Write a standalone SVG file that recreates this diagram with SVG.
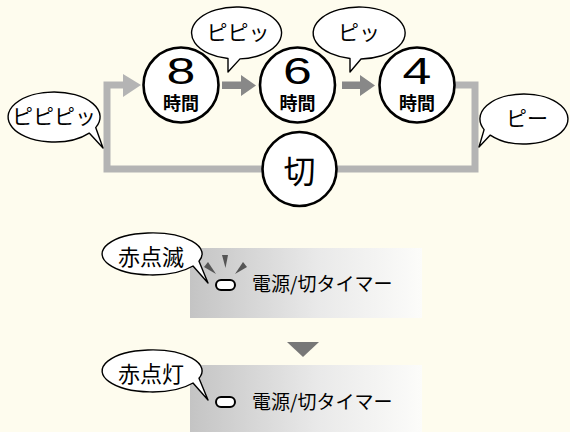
<svg xmlns="http://www.w3.org/2000/svg" width="570" height="432" viewBox="0 0 570 432">
<defs>
<linearGradient id="panel" x1="0" y1="0" x2="1" y2="0">
<stop offset="0" stop-color="#c4c4c4"/>
<stop offset="0.55" stop-color="#e9e9e9"/>
<stop offset="1" stop-color="#fcfcfa"/>
</linearGradient>
<style>
.node{fill:#fff;stroke:#000;stroke-width:2.6}
.bub{fill:#fff;stroke:#000;stroke-width:1.4;stroke-linejoin:round}
.loop{fill:none;stroke:#b4b4b4;stroke-width:7}
.jp{font-family:"Noto Sans CJK JP","Noto Sans",sans-serif;fill:#000}
.dig{font-family:"Liberation Sans","DejaVu Sans",sans-serif;font-size:37px;fill:#000;text-anchor:middle}
.hr{font-size:18px;font-weight:bold;text-anchor:middle}
.bt{font-size:21px;text-anchor:middle}
.lbl{font-size:19px}
.led{fill:#fff;stroke:#000;stroke-width:2}
</style>
</defs>
<rect width="570" height="432" fill="#fefcee"/>
<g id="connectors">
<path class="loop" d="M270,169 H107 V85 H125"/>
<polygon points="123,74 141,85 123,97" fill="#b4b4b4"/>
<path class="loop" d="M445,85 H475 V169 H330"/>
<polygon points="222,81.5 241,81.5 241,75 256,85.5 241,96 241,89 222,89" fill="#888"/>
<polygon points="342,81.5 360,81.5 360,75 375,85.5 360,96 360,89 342,89" fill="#888"/>
</g>
<g id="node-8">
<circle class="node" cx="181" cy="85" r="37.5"/>
<text class="dig" transform="translate(181,84) scale(1.4,1)">8</text>
<text class="jp hr" x="181" y="110">時間</text>
</g>
<g id="node-6">
<circle class="node" cx="297.5" cy="85" r="37.5"/>
<text class="dig" transform="translate(297.5,84) scale(1.4,1)">6</text>
<text class="jp hr" x="297.5" y="110">時間</text>
</g>
<g id="node-4">
<circle class="node" cx="417" cy="85" r="37.5"/>
<text class="dig" transform="translate(417,84) scale(1.4,1)">4</text>
<text class="jp hr" x="417" y="110">時間</text>
</g>
<g id="node-off">
<circle class="node" cx="299.5" cy="169" r="37"/>
<text class="jp" x="299.5" y="183" font-size="32" text-anchor="middle">切</text>
</g>
<g id="bubble-pipipi">
<path class="bub" d="M89.2,133.1 A46,25 0 1 1 95.7,127.6 L103,148 Z"/>
<text class="jp bt" x="54" y="124">ピピピッ</text>
</g>
<g id="bubble-pipi">
<path class="bub" d="M228,58.5 A45,26 0 1 1 240,58.9 L228,72 Z"/>
<text class="jp bt" x="238" y="40">ピピッ</text>
</g>
<g id="bubble-pi">
<path class="bub" d="M350,58.5 A46,26 0 1 1 361,59 L350,72 Z"/>
<text class="jp bt" x="359" y="40">ピッ</text>
</g>
<g id="bubble-pii">
<path class="bub" d="M484.1,129.6 A44,25 0 1 1 490.3,135.1 L479,147 Z"/>
<text class="jp bt" x="527" y="126">ピー</text>
</g>
<g id="panel-blink">
<rect x="190" y="248" width="232" height="70" fill="url(#panel)"/>
<polygon points="204,267 208,262 216,274" fill="#555"/>
<polygon points="222,255 228,255 225.5,268" fill="#555"/>
<polygon points="247,267 243,262 235,274" fill="#555"/>
<rect class="led" x="216" y="280" width="19" height="10" rx="5"/>
<text class="jp lbl" x="252" y="291">電源/切タイマー</text>
</g>
<g id="bubble-blink">
<path class="bub" d="M193,266 A50,21 0 1 1 199,261.2 L208,283 Z"/>
<text class="jp" x="151" y="265" font-size="22" text-anchor="middle">赤点滅</text>
</g>
<polygon id="arrow-down" points="287,342 319,342 303,357" fill="#777"/>
<g id="panel-on">
<rect x="190" y="365" width="232" height="67" fill="url(#panel)"/>
<rect class="led" x="216" y="397" width="19" height="10" rx="5"/>
<text class="jp lbl" x="252" y="409">電源/切タイマー</text>
</g>
<g id="bubble-on">
<path class="bub" d="M193,383 A50,21 0 1 1 199,378.2 L208,400 Z"/>
<text class="jp" x="151" y="382" font-size="22" text-anchor="middle">赤点灯</text>
</g>
</svg>
